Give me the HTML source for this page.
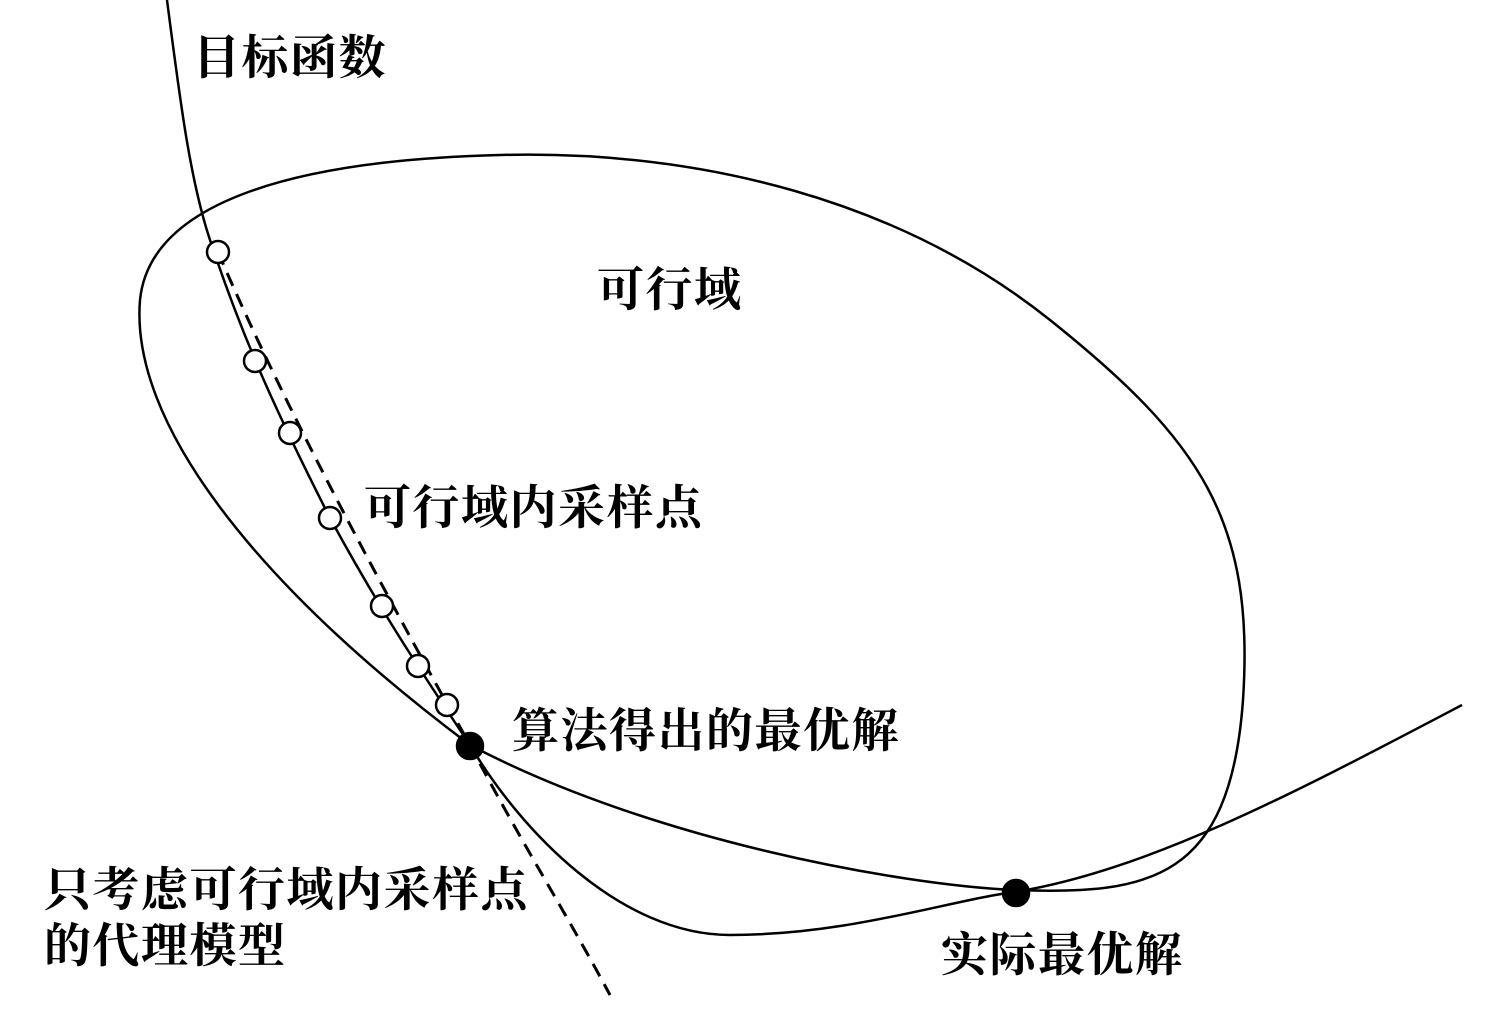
<!DOCTYPE html>
<html><head><meta charset="utf-8"><style>
html,body{margin:0;padding:0;background:#fff;}
svg text{font-family:"Liberation Serif","Noto Serif CJK SC",serif;font-size:47px;font-weight:bold;fill:#000;letter-spacing:1.5px;}
</style></head><body>
<svg width="1493" height="1028" viewBox="0 0 1493 1028" xmlns="http://www.w3.org/2000/svg">
<g fill="none" stroke="#000" stroke-width="2.5">
<path d="M470,745 C650,840 900,885 1015,890 C1150,895 1230,880 1243,700 C1255,520 1200,440 1050,320 C900,200 700,150 500,155 C300,160 150,200 140,300 C130,420 250,580 470,745 Z"/>
<path d="M167,0 C180,100 190,180 210,240 C240,330 270,400 330,518 C380,610 420,670 470,745 C520,830 620,935 730,935 C850,935 950,900 1015,892 C1150,870 1300,790 1462,705"/>
<path d="M218,252 C290,420 400,620 470,745 C520,840 570,920 610,995" stroke-dasharray="14,9" stroke-width="3"/>
<g fill="#fff" stroke-width="2.5">
<circle cx="218" cy="252" r="11"/><circle cx="255" cy="361" r="11"/><circle cx="290" cy="433" r="11"/>
<circle cx="330" cy="518" r="11"/><circle cx="382" cy="606" r="11"/><circle cx="418" cy="666" r="11"/>
<circle cx="447" cy="705" r="11"/>
</g>
<circle cx="470" cy="746" r="13" fill="#000"/>
<circle cx="1016" cy="893" r="13" fill="#000"/>
</g>
<text x="193" y="74">目标函数</text>
<text x="597" y="306">可行域</text>
<text x="364" y="524">可行域内采样点</text>
<text x="512" y="747">算法得出的最优解</text>
<text x="44" y="906">只考虑可行域内采样点</text>
<text x="44" y="962">的代理模型</text>
<text x="941" y="971">实际最优解</text>
</svg>
</body></html>
